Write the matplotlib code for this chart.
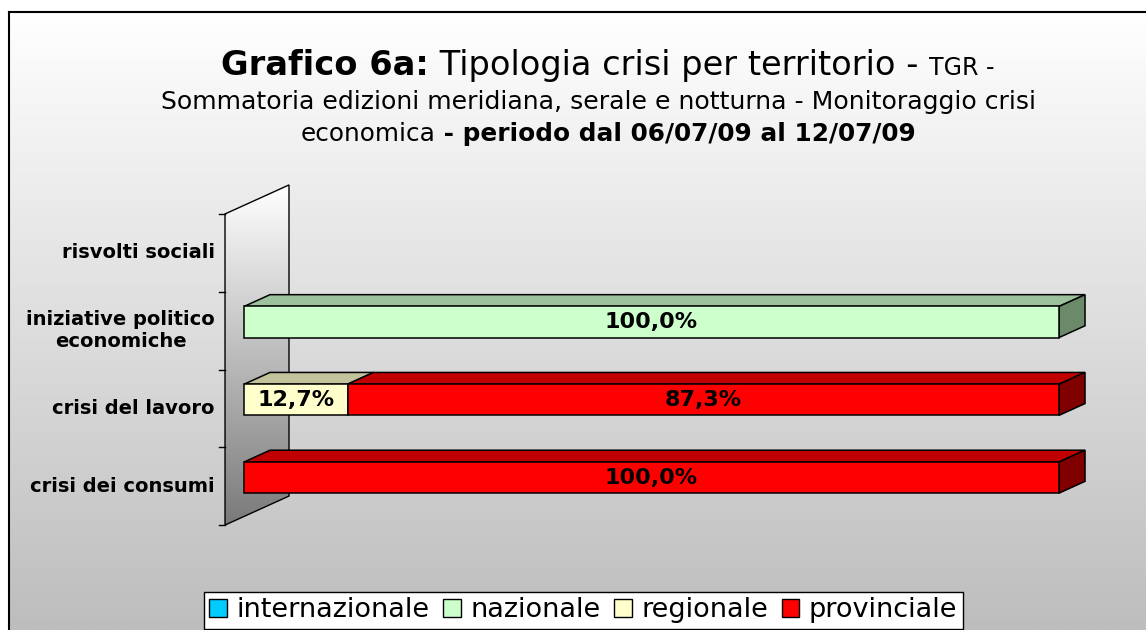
import numpy as np
import matplotlib
matplotlib.use('Agg')
import matplotlib.pyplot as plt
from matplotlib.patches import Polygon, Patch
from matplotlib.colors import LinearSegmentedColormap

plt.rcParams['font.family'] = ['DejaVu Sans']

# dati
categorie = ['crisi dei consumi', 'crisi del lavoro', 'iniziative politico\neconomiche', 'risvolti sociali']
serie = ['internazionale', 'nazionale', 'regionale', 'provinciale']
internazionale = [0, 0, 0, 0]
nazionale = [0, 0, 100.0, 0]
regionale = [0, 12.7, 0, 0]
provinciale = [100.0, 87.3, 0, 0]
valori = [internazionale, nazionale, regionale, provinciale]

col_fronte = ['#00CCFF', '#CCFFCC', '#FFFFCC', '#FF0000']
col_sopra = ['#00A3CC', '#9CC29C', '#C2C29C', '#C00000']
col_lato = ['#007A99', '#6A8A6A', '#8A8A6A', '#800000']

W, H = 1146, 630
fig = plt.figure(figsize=(W / 100, H / 100), dpi=100)

# sfondo sfumato con cornice
bg = fig.add_axes([9 / W, 0, 1 - 9 / W, 1 - 12 / H])
grad = np.linspace(0, 1, 256).reshape(-1, 1)
cm_bg = LinearSegmentedColormap.from_list('bg', ['#FFFFFF', '#BDBDBD'])
bg.imshow(grad, cmap=cm_bg, aspect='auto', extent=(0, 1, 0, 1))
bg.set_xticks([])
bg.set_yticks([])
bg.spines['right'].set_visible(False)
bg.spines['bottom'].set_visible(False)
bg.spines['left'].set_linewidth(1.5)
bg.spines['top'].set_linewidth(1.5)

# area del grafico (coordinate dati: x in %, y = indice categoria)
ax = fig.add_axes([0, 0, 1, 1])
ax.set_facecolor('none')
ax.set_xlim(-29.94, 110.67)
ax.set_ylim(-1.96, 6.14)
ax.axis('off')

D = np.array([7.85, 0.373])   # profondita' della parete
f0, f1 = 0.297, 0.703         # profondita' delle barre
hb = 0.4                      # altezza barre
n = len(categorie)


def sposta(x, y, t):
    return (x + t * D[0], y + t * D[1])


# parete laterale
y_lo, y_hi = -0.5, n - 0.5
parete = [sposta(0, y_lo, -f0), sposta(0, y_hi, -f0),
          sposta(0, y_hi, 1 - f0), sposta(0, y_lo, 1 - f0)]
poly = Polygon(parete, closed=True, facecolor='none', edgecolor='black', lw=1, zorder=3)
ax.add_patch(poly)
xs = [p[0] for p in parete]
ys = [p[1] for p in parete]
cm_w = LinearSegmentedColormap.from_list('wall', ['#FFFFFF', '#7A7A7A'])
im = ax.imshow(grad, cmap=cm_w, aspect='auto', extent=(min(xs), max(xs), min(ys), max(ys)), zorder=2)
im.set_clip_path(poly)

# tacche ed etichette delle categorie
for k in range(n + 1):
    px, py = sposta(0, y_lo + k, -f0)
    ax.plot([px - 0.75, px], [py, py], color='black', lw=1, zorder=3)
for i, c in enumerate(categorie):
    px, py = sposta(0, i, -f0)
    ax.text(px - 1.25, py, c, ha='right', va='center', fontsize=14, fontweight='bold',
            multialignment='center', linespacing=1.2, zorder=5)

# barre 3D in pila
dx, dy = (f1 - f0) * D
for i in range(n):
    left = 0
    pos = [s for s in range(len(serie)) if valori[s][i] > 0]
    for s in pos:
        w = valori[s][i]
        b, t = i - hb / 2, i + hb / 2
        sopra = [(left, t), (left + w, t), (left + w + dx, t + dy), (left + dx, t + dy)]
        ax.add_patch(Polygon(sopra, closed=True, facecolor=col_sopra[s], edgecolor='black', lw=1.1, zorder=4))
        if s == pos[-1]:
            lato = [(left + w, b), (left + w, t), (left + w + dx, t + dy), (left + w + dx, b + dy)]
            ax.add_patch(Polygon(lato, closed=True, facecolor=col_lato[s], edgecolor='black', lw=1.1, zorder=4))
        fronte = [(left, b), (left + w, b), (left + w, t), (left, t)]
        ax.add_patch(Polygon(fronte, closed=True, facecolor=col_fronte[s], edgecolor='black', lw=1.1, zorder=4))
        ax.text(left + w / 2, i, f'{w:.1f}%'.replace('.', ','), ha='center', va='center',
                fontsize=16, fontweight='bold', zorder=6)
        left += w

# titolo con parti in grassetto
renderer = fig.canvas.get_renderer()


def riga(parti, xc, yb):
    testi = []
    for s, fs, fw in parti:
        testi.append(fig.text(0, 1 - yb / H, s, fontsize=fs, fontweight=fw, va='baseline', ha='left'))
    larg = [t.get_window_extent(renderer).width for t in testi]
    x = xc - sum(larg) / 2
    for t, l in zip(testi, larg):
        t.set_x(x / W)
        x += l


riga([('Grafico 6a:', 24.2, 'bold'), (' Tipologia crisi per territorio - ', 24.2, 'normal'),
      ('TGR -', 17, 'normal')], 608, 75)
riga([('Sommatoria edizioni meridiana, serale e notturna - Monitoraggio crisi', 18.1, 'normal')], 599, 109)
riga([('economica', 17.8, 'normal'), (' - periodo dal 06/07/09 al 12/07/09', 17.8, 'bold')], 608, 141)

# legenda
maniglie = [Patch(facecolor=c, edgecolor='black') for c in col_fronte]
leg = fig.legend(maniglie, serie, loc='upper left', bbox_to_anchor=(204 / W, 1 - 592 / H),
                 ncol=4, fontsize=19.5, frameon=True, fancybox=False, edgecolor='black',
                 framealpha=1, handlelength=0.65, handleheight=0.65, handletextpad=0.35,
                 columnspacing=0.5, borderpad=0.2, borderaxespad=0)
leg.get_frame().set_linewidth(1)

fig.savefig('out.png', dpi=100)
